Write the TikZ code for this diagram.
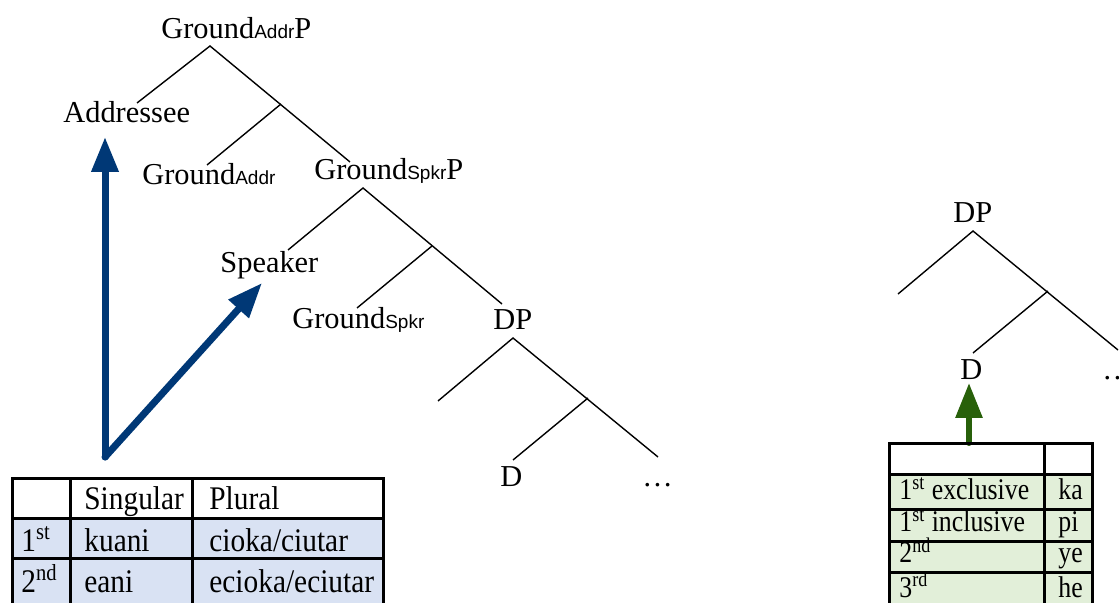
\documentclass[tikz,border=0pt]{standalone}
\usepackage{fontspec}
\setmainfont{Liberation Serif}
\newfontfamily\subfont{Liberation Sans}
\newfontfamily\leftfont[FakeStretch=0.89]{Liberation Serif}
\newfontfamily\rightfont[FakeStretch=0.86]{Liberation Serif}
\usetikzlibrary{arrows.meta,positioning,calc}
\definecolor{addrblue}{RGB}{0,56,118}
\definecolor{darkgreen}{RGB}{40,96,10}
\definecolor{cellblue}{RGB}{217,226,243}
\definecolor{cellgreen}{RGB}{226,239,217}
\newcommand{\lowlab}[1]{{\subfont\fontsize{9.5}{11}\selectfont #1}}
\tikzset{
    lab/.style={anchor=base west, inner sep=0pt, font=\fontsize{15.2}{18}\selectfont},
    branch/.style={line width=0.7pt},
    bigarrow/.style={line width=3.5pt, line cap=round, -{Triangle[length=17.5pt,width=13pt]}},
    lcell/.style={anchor=base west, inner sep=0pt, font=\leftfont\fontsize{16.5}{18}\selectfont},
    rcell/.style={anchor=base west, inner sep=0pt, font=\rightfont\fontsize{15}{17}\selectfont},
    rule/.style={line width=1.5pt}
}

\begin{document}
\begin{tikzpicture}[x=0.5pt, y=-0.5pt]
    \useasboundingbox (0,0) rectangle (1119,603);
    \clip (0,0) rectangle (1119,603);

    % left tree
    \node[lab] (gap) at (161,39) {Ground\lowlab{Addr}P};
    \node[lab] (addr) at (63,123) {Addressee};
    \node[lab] (ga) at (142,185) {Ground\lowlab{Addr}};
    \node[lab] (gsp) at (314,180) {Ground\lowlab{Spkr}P};
    \node[lab] (spk) at (220,273) {Speaker};
    \node[lab] (gs) at (292,329) {Ground\lowlab{Spkr}};
    \node[lab] (dp) at (493,330) {DP};
    \node[lab] (d) at (500,487) {D};
    \node[lab] (dots) at (642,487) {…};

    \coordinate (gapT) at (210,46);
    \coordinate (addrE) at (137,103);
    \coordinate (gspE) at (350,162);
    \coordinate (gaB) at (281,104);
    \coordinate (gaE) at (207,165);
    \draw[branch] (addrE) -- (gapT) -- (gspE);
    \draw[branch] (gaB) -- (gaE);

    \coordinate (gspT) at (363,188);
    \coordinate (spkE) at (288,250);
    \coordinate (dpE) at (502,304);
    \coordinate (gsB) at (432,246);
    \coordinate (gsE) at (357,308);
    \draw[branch] (spkE) -- (gspT) -- (dpE);
    \draw[branch] (gsB) -- (gsE);

    \coordinate (dpT) at (513,338);
    \coordinate (dpL) at (438,401);
    \coordinate (dpR) at (658,457);
    \coordinate (dB) at (588,398);
    \coordinate (dE) at (513,460);
    \draw[branch] (dpL) -- (dpT) -- (dpR);
    \draw[branch] (dB) -- (dE);

    % right tree
    \node[lab] (dpr) at (953,223) {DP};
    \node[lab] (dr) at (960,380) {D};
    \node[lab] (dotsr) at (1102,380) {…};

    \coordinate (dprT) at (973,231);
    \coordinate (dprL) at (898,294);
    \coordinate (dprR) at (1118,350);
    \coordinate (drB) at (1048,291);
    \coordinate (drE) at (973,353);
    \draw[branch] (dprL) -- (dprT) -- (dprR);
    \draw[branch] (drB) -- (drE);

    % arrows
    \coordinate (vee) at (105,457);
    \coordinate (addrTip) at (105,137);
    \coordinate (spkTip) at (262,283);
    \draw[bigarrow, addrblue] (vee) -- (addrTip);
    \draw[bigarrow, addrblue] (vee) -- (spkTip);

    \coordinate (grnBase) at (969,443);
    \coordinate (grnTip) at (969,383);
    \draw[bigarrow, darkgreen, line width=3pt] (grnBase) -- (grnTip);

    % left table
    \fill[cellblue] (12,519) rectangle (383,615);
    \draw[rule] (12,615) -- (12,479) -- (383,479) -- (383,615);
    \draw[rule] (12,519) -- (383,519);
    \draw[rule] (12,559) -- (383,559);
    \draw[rule] (70,479) -- (70,615);
    \draw[rule] (192,479) -- (192,615);
    \node[lcell] (sg) at (84,510) {Singular};
    \node[lcell] (pl) at (209,510) {Plural};
    \node[lcell] (p1) at (21,552) {1\textsuperscript{st}};
    \node[lcell] (sg1) at (84,552) {kuani};
    \node[lcell] (pl1) at (209,552) {cioka/ciutar};
    \node[lcell] (p2) at (21,593) {2\textsuperscript{nd}};
    \node[lcell] (sg2) at (84,593) {eani};
    \node[lcell] (pl2) at (209,593) {ecioka/eciutar};

    % right table
    \fill[cellgreen] (889,475) rectangle (1092,615);
    \draw[rule] (889,615) -- (889,444) -- (1092,444) -- (1092,615);
    \draw[rule] (889,475) -- (1092,475);
    \draw[rule] (889,510) -- (1092,510);
    \draw[rule] (889,542) -- (1092,542);
    \draw[rule] (889,573) -- (1092,573);
    \draw[rule] (1044,444) -- (1044,615);
    \node[rcell] (ex) at (899,500) {1\textsuperscript{st} exclusive};
    \node[rcell] (exv) at (1058,500) {ka};
    \node[rcell] (in) at (899,532) {1\textsuperscript{st} inclusive};
    \node[rcell] (inv) at (1058,532) {pi};
    \node[rcell] (sec) at (899,563) {2\textsuperscript{nd}};
    \node[rcell] (secv) at (1058,563) {ye};
    \node[rcell] (thi) at (899,597) {3\textsuperscript{rd}};
    \node[rcell] (thiv) at (1058,597) {he};
\end{tikzpicture}
\end{document}
